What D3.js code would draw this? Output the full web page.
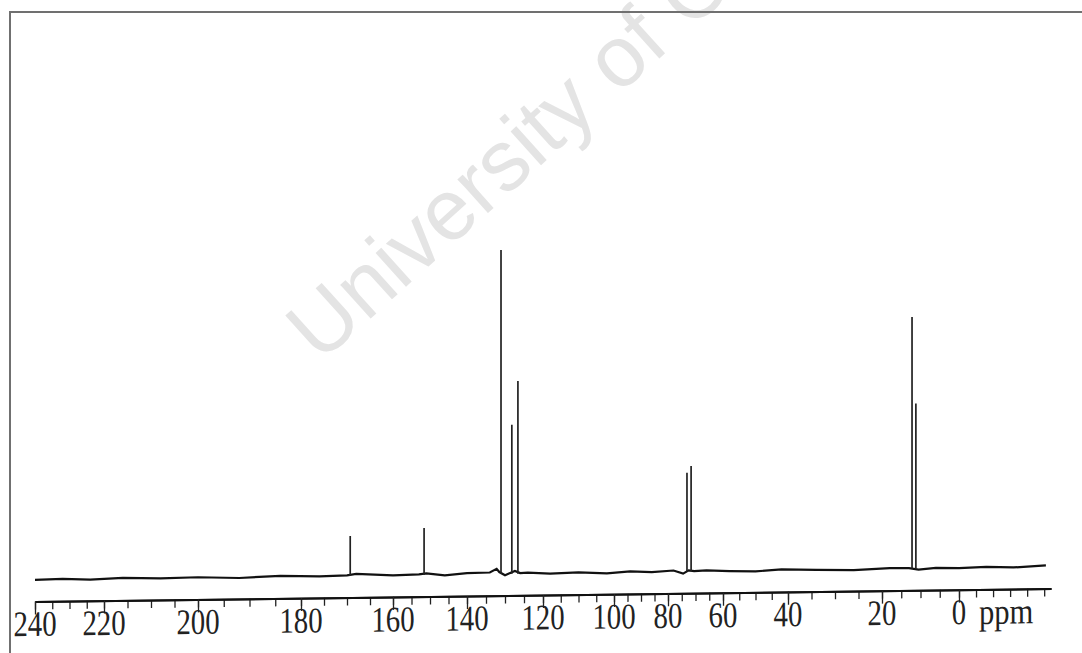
<!DOCTYPE html>
<html><head><meta charset="utf-8">
<script src="https://cdn.jsdelivr.net/npm/d3@7"></script>
<style>body{margin:0;background:#fff} svg{display:block}</style>
</head><body><svg id="c" width="1082" height="653"></svg>
<script>
// ---- data ----
const tickLabels = [240,220,200,180,160,140,120,100,80,60,40,20,0];
const unitLabel = "ppm";
const peakPpm = [169.3, 151.6, 131.05, 128.2, 126.6, 73.1, 71.6, 12.2, 11.2];
const peakInt = [12.3, 14.5, 100, 46, 59.5, 30.5, 32.6, 77.7, 51];
const baselinePpm = [240,232,224,216,208,200,192,184,176,170,168,160,153,151,146,140,134,132.2,131.5,130,128.8,127.4,126,124,118,110,102,94,86,78,74.5,72.5,70.5,66,58,50,42,34,26,18,13,10.5,6,0,-8,-16,-25.5];
const baselineInt = [0,0.2,-0.1,0.3,0,0.2,-0.2,0.3,0,0.2,0.6,0,0.2,0.5,-0.2,0.4,0.5,1.6,0.6,-0.4,0.2,0.9,0.2,0.3,-0.1,0.2,-0.2,0.3,0,0.4,-0.6,0.4,0.1,0.3,0,-0.2,0.3,0,-0.2,0.3,0.2,-0.3,0.2,0,0.3,0,0.5];
const watermark = "University of Cape Town";

const svg = d3.select('#c');

// watermark
svg.append('text')
  .attr('transform','translate(320,364) rotate(-42)')
  .attr('font-family','"Liberation Sans", Arial, sans-serif')
  .attr('font-size',86)
  .attr('fill','#e4e4e4')
  .text(watermark);

// frame
svg.append('path').attr('d','M10,653 V12 H1082')
  .attr('fill','none').attr('stroke','#707070').attr('stroke-width',2);

const cx = 540, tilt = -0.733;
const g = svg.append('g')
  .attr('transform',`translate(${cx},0) skewY(${tilt}) translate(${-cx},0)`);

const x = d3.scaleLinear()
  .domain([240,220,200,180,160,140,120,100,80,60,40,20,0,-27])
  .range([35,104,198,301,393,467,543,614,668,723,788,882,959,1051]);
const y = d3.scaleLinear().domain([0,100]).range([573.5,249.5]);

// baseline trace
const base = baselinePpm.map((p,i)=>[p, baselineInt[i]]);
g.append('path')
  .attr('d', d3.line().x(d=>x(d[0])).y(d=>y(d[1]))(base))
  .attr('fill','none').attr('stroke','#111').attr('stroke-width',2.2);

// peaks
g.selectAll('line.pk').data(peakPpm.map((p,i)=>[p,peakInt[i]])).join('line')
  .attr('class','pk')
  .attr('x1',d=>x(d[0])).attr('x2',d=>x(d[0]))
  .attr('y1',y(0)).attr('y2',d=>y(d[1]))
  .attr('stroke','#222').attr('stroke-width',1.7);

// axis
const axY = 595;
const minor = g.append('g').attr('transform',`translate(0,${axY})`)
  .call(d3.axisBottom(x).tickValues(d3.range(240,-26,-5)).tickSize(8).tickSizeOuter(0).tickFormat(''));
const major = g.append('g').attr('transform',`translate(0,${axY})`)
  .call(d3.axisBottom(x).tickValues(tickLabels).tickSize(13).tickSizeOuter(0).tickFormat(''));
[minor, major].forEach(a=>{
  a.select('.domain').attr('stroke','#111').attr('stroke-width',2);
  a.selectAll('.tick line').attr('stroke','#222').attr('stroke-width',1.3);
});

// tick labels
g.selectAll('text.lbl').data(tickLabels).join('text')
  .attr('class','lbl')
  .attr('transform',d=>`translate(${x(d)},629.5) scale(0.8,1)`)
  .attr('text-anchor','middle')
  .attr('font-family','"Liberation Serif", "Times New Roman", serif')
  .attr('font-size',36)
  .attr('fill','#222')
  .text(d=>d);
g.append('text')
  .attr('transform',`translate(${x(0)+20},629.5) scale(0.85,1)`)
  .attr('font-family','"Liberation Serif", "Times New Roman", serif')
  .attr('font-size',36)
  .attr('fill','#222')
  .text(unitLabel);
</script></body></html>
